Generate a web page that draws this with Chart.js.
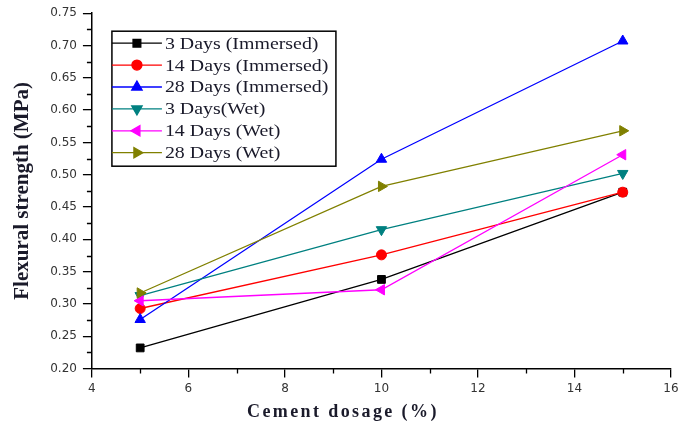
<!DOCTYPE html>
<html>
<head>
<meta charset="utf-8">
<script src="https://cdn.jsdelivr.net/npm/chart.js@4/dist/chart.umd.min.js"></script>
<style>
  html, body { margin: 0; padding: 0; background: #fff; }
  #wrap { width: 678px; height: 429px; position: relative; }
</style>
</head>
<body>
<div id="wrap"><canvas id="flexChart"></canvas></div>
<script>
// cement dosage (%) on the x axis
const dosage = [5, 10, 15];

// flexural strength (MPa)
const threeDaysImmersed = [0.232, 0.338, 0.473];
const fourteenDaysImmersed = [0.293, 0.376, 0.473];
const twentyEightDaysImmersed = [0.276, 0.524, 0.707];
const threeDaysWet = [0.313, 0.415, 0.502];
const fourteenDaysWet = [0.305, 0.322, 0.531];
const twentyEightDaysWet = [0.317, 0.482, 0.568];

const seriesLabels = ['3 Days (Immersed)', '14 Days (Immersed)', '28 Days (Immersed)',
    '3 Days(Wet)', '14 Days (Wet)', '28 Days (Wet)'];

const seriesStyles = [
    { color: '#000000', pointStyle: 'rect', rotation: 0, radius: 5.5 },
    { color: '#ff0000', pointStyle: 'circle', rotation: 0, radius: 5 },
    { color: '#0000ff', pointStyle: 'triangle', rotation: 0, radius: 6 },
    { color: '#008080', pointStyle: 'triangle', rotation: 180, radius: 6 },
    { color: '#ff00ff', pointStyle: 'triangle', rotation: 270, radius: 6 },
    { color: '#808000', pointStyle: 'triangle', rotation: 90, radius: 6 }
];

const allValues = [threeDaysImmersed, fourteenDaysImmersed, twentyEightDaysImmersed,
    threeDaysWet, fourteenDaysWet, twentyEightDaysWet];

const datasets = allValues.map((vals, i) => ({
    label: seriesLabels[i],
    data: vals.map((v, j) => ({ x: dosage[j], y: v })),
    borderColor: seriesStyles[i].color,
    backgroundColor: seriesStyles[i].color,
    borderWidth: 1.3,
    pointStyle: seriesStyles[i].pointStyle,
    rotation: seriesStyles[i].rotation,
    pointRadius: seriesStyles[i].radius,
    pointBorderWidth: 1,
    order: 6 - i
}));

// small in-between ticks on both axes
const minorTicks = {
    id: 'minorTicks',
    afterDraw(chart) {
        const ctx = chart.ctx;
        const xs = chart.scales.x, ys = chart.scales.y;
        ctx.save();
        ctx.strokeStyle = '#000';
        ctx.lineWidth = 1.3;
        ctx.beginPath();
        for (let v = 5; v < 16; v += 2) {
            const px = Math.round(xs.getPixelForValue(v)) + 0.5;
            ctx.moveTo(px, ys.bottom);
            ctx.lineTo(px, ys.bottom + 5);
        }
        for (let k = 0; k < 11; k++) {
            const py = Math.round(ys.getPixelForValue(0.225 + k * 0.05)) + 0.5;
            ctx.moveTo(xs.left - 5, py);
            ctx.lineTo(xs.left, py);
        }
        ctx.stroke();
        ctx.restore();
    }
};

// x title sits a bit left of the axis centre in the original, with wide letter spacing
const xTitle = {
    id: 'xTitle',
    afterDraw(chart) {
        const ctx = chart.ctx;
        ctx.save();
        ctx.font = 'bold 18px "Liberation Serif"';
        ctx.letterSpacing = '2.4px';
        ctx.fillStyle = '#1a1a2a';
        ctx.textAlign = 'center';
        ctx.textBaseline = 'middle';
        ctx.fillText('Cement dosage (%)', chart.chartArea.left + 251, 412);
        ctx.restore();
    }
};

// boxed legend inside the plot, top left
const boxLegend = {
    id: 'boxLegend',
    afterDraw(chart) {
        const ctx = chart.ctx;
        const area = chart.chartArea;
        const left = area.left + 20, top = area.top + 18;
        const w = 224, h = 135, rowH = 21.9;
        ctx.save();
        ctx.fillStyle = '#fff';
        ctx.fillRect(left, top, w, h);
        ctx.strokeStyle = '#000';
        ctx.lineWidth = 1.5;
        ctx.strokeRect(left, top, w, h);
        chart.data.datasets.forEach((ds, i) => {
            const y = top + 12 + i * rowH;
            ctx.strokeStyle = ds.borderColor;
            ctx.fillStyle = ds.backgroundColor;
            ctx.lineWidth = 1.3;
            ctx.beginPath();
            ctx.moveTo(left, y);
            ctx.lineTo(left + 50, y);
            ctx.stroke();
            Chart.helpers.drawPoint(ctx, {
                pointStyle: ds.pointStyle,
                rotation: ds.rotation,
                radius: ds.pointRadius,
                borderWidth: 1
            }, left + 25, y);
            ctx.save();
            ctx.translate(left + 53, y);
            ctx.scale(1.17, 1);
            ctx.fillStyle = '#1a1a2a';
            ctx.font = '17px "Liberation Serif"';
            ctx.textBaseline = 'middle';
            ctx.fillText(ds.label, 0, 1);
            ctx.restore();
        });
        ctx.restore();
    }
};

const tickFont = { family: 'DejaVu Sans', size: 12 };

new Chart(document.getElementById('flexChart'), {
    type: 'line',
    data: { datasets: datasets },
    options: {
        responsive: true,
        maintainAspectRatio: false,
        animation: false,
        layout: { padding: { top: 6, right: 0, left: 10, bottom: 29 } },
        plugins: {
            legend: { display: false },
            tooltip: { enabled: false }
        },
        scales: {
            x: {
                type: 'linear',
                min: 4,
                max: 16,
                // let the last label hang near the edge like the original
                afterFit: scale => { scale.paddingRight = 6; },
                ticks: { stepSize: 2, font: tickFont, color: '#333', padding: 4 },
                grid: { drawOnChartArea: false, drawTicks: true, tickLength: 9, color: '#000', lineWidth: 1.3 },
                border: { display: true, color: '#000', width: 1.5 },
                title: { display: false }
            },
            y: {
                min: 0.2,
                max: 0.75,
                ticks: {
                    stepSize: 0.05,
                    font: tickFont,
                    color: '#333',
                    padding: 6,
                    callback: v => v.toFixed(2)
                },
                grid: { drawOnChartArea: false, drawTicks: true, tickLength: 9, color: '#000', lineWidth: 1.3 },
                border: { display: true, color: '#000', width: 1.5 },
                title: {
                    display: true,
                    text: 'Flexural strength (MPa)',
                    font: { family: 'Liberation Serif', size: 21, weight: 'bold' },
                    color: '#1a1a2a',
                    padding: { top: 0, bottom: 9 }
                }
            }
        }
    },
    plugins: [minorTicks, xTitle, boxLegend]
});
</script>
</body>
</html>
